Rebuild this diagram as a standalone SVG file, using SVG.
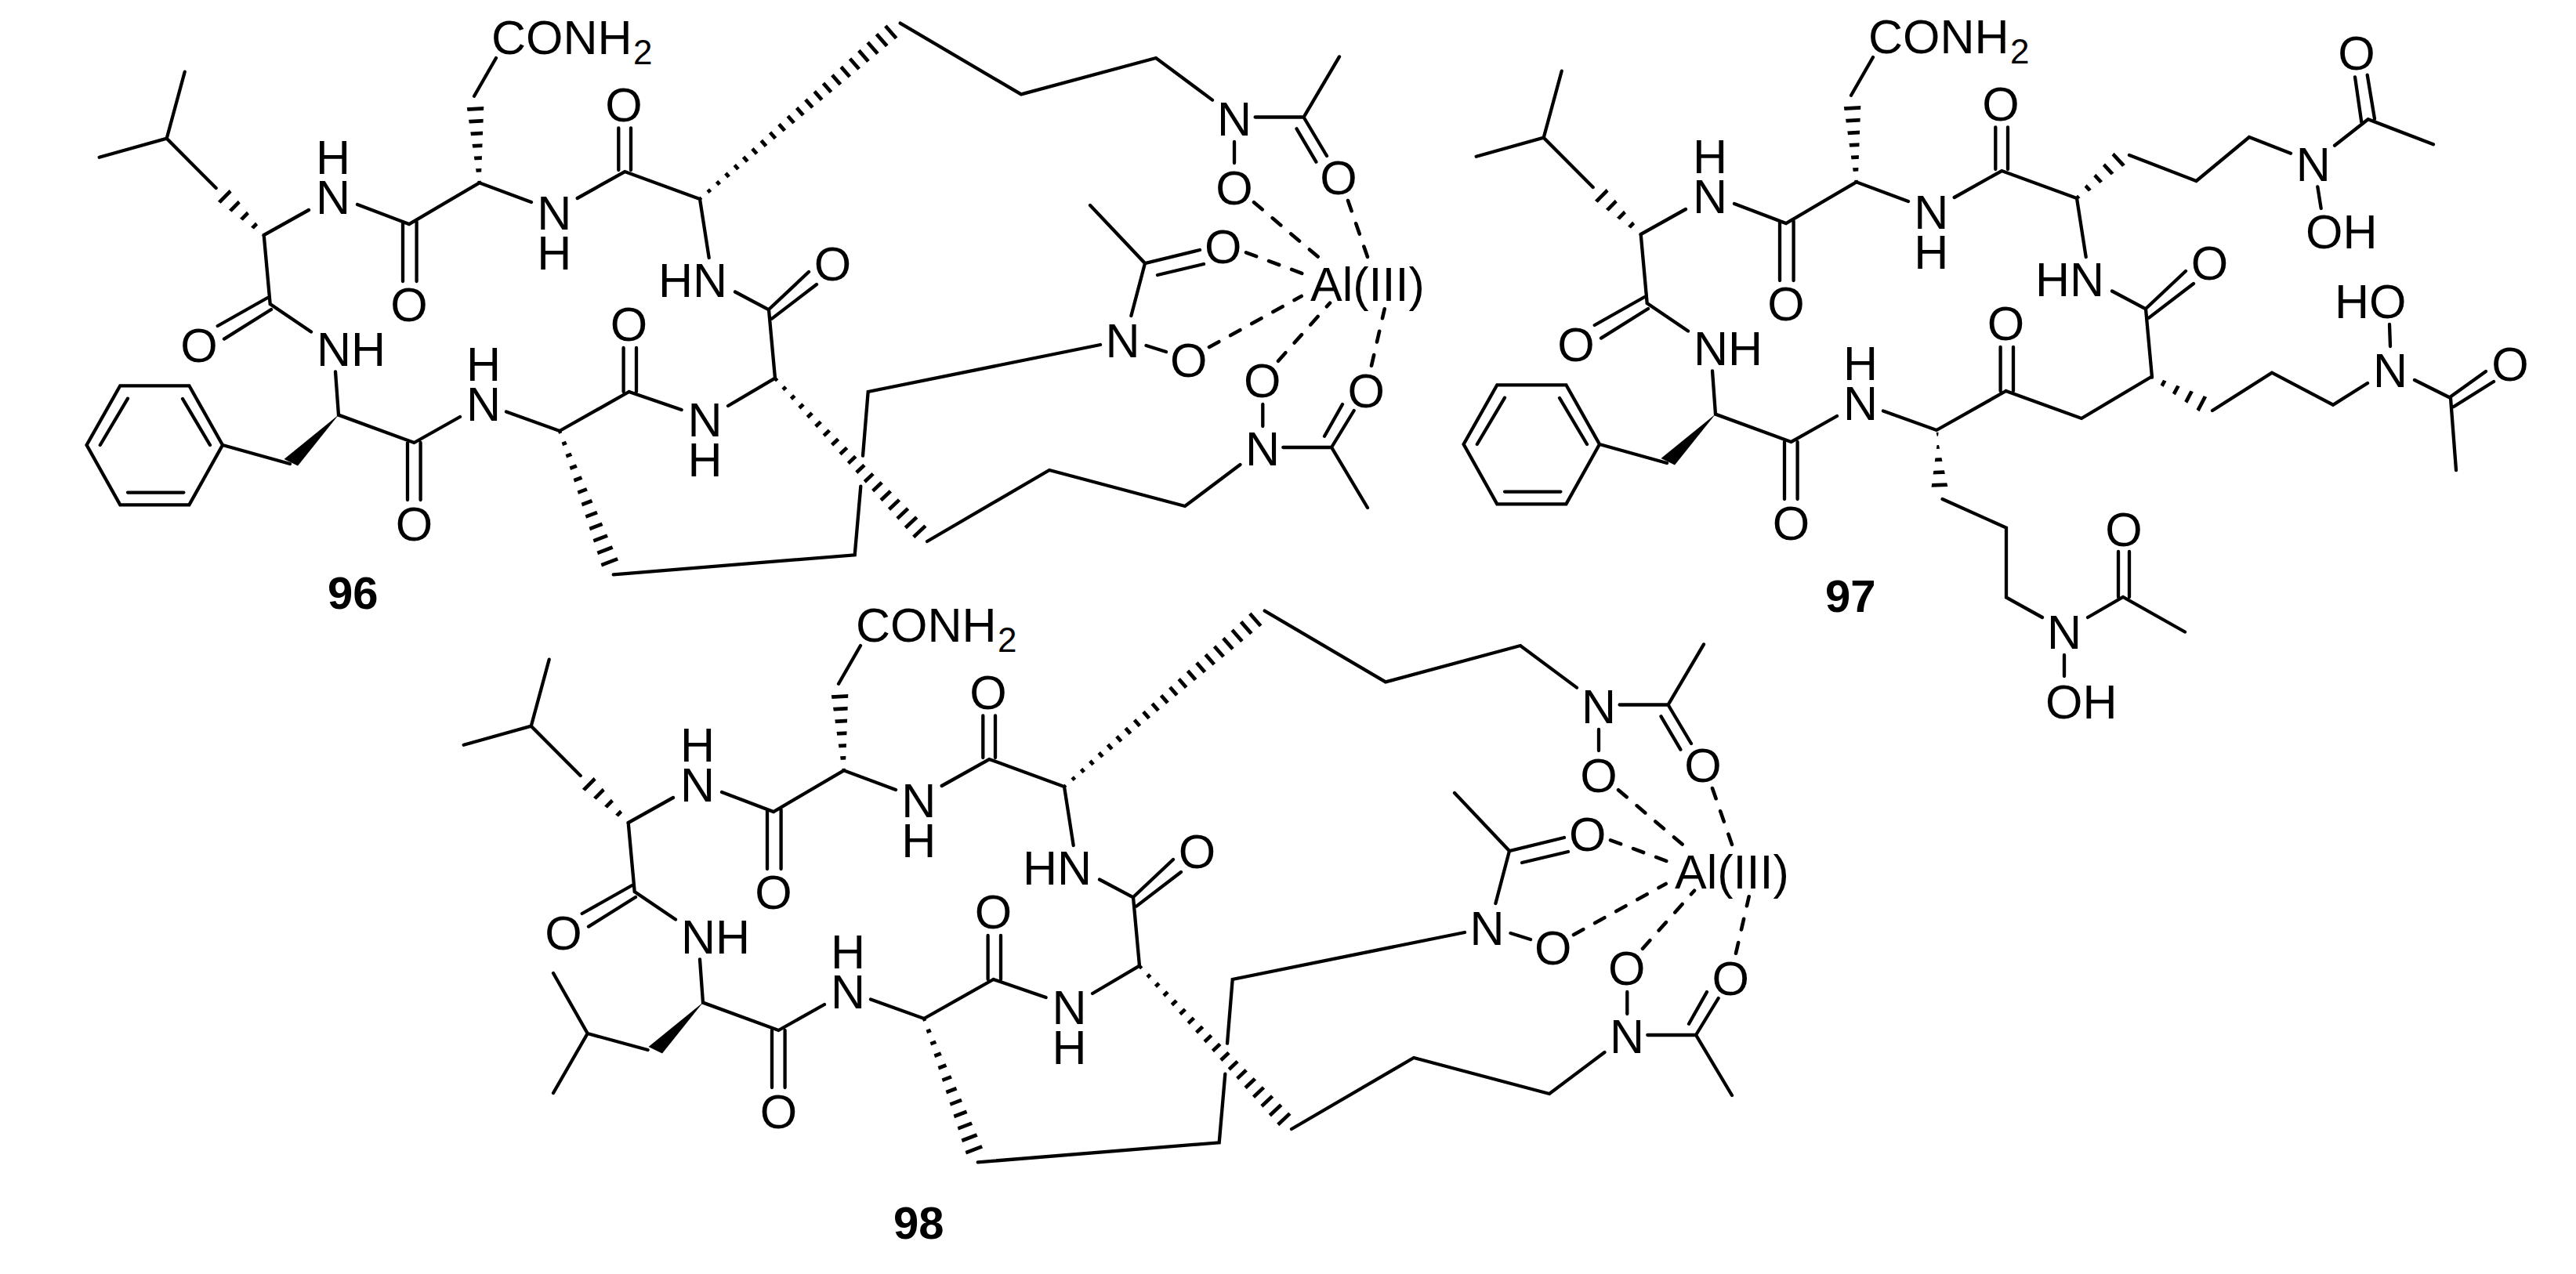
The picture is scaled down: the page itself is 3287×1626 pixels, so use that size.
<svg xmlns="http://www.w3.org/2000/svg" width="3287" height="1626" viewBox="0 0 3287 1626">
<style>
.b{fill:none;stroke:#000;stroke-width:4.3;stroke-linejoin:miter;stroke-linecap:round}
.d{fill:none;stroke:#000;stroke-width:4.6;stroke-linecap:round;stroke-dasharray:14 17}
.h{stroke:#000;stroke-width:26;stroke-dasharray:4.7 11}
.w{stroke-dasharray:4.7 13}
.t{font-family:"Liberation Sans",Arial,sans-serif;font-size:61px;fill:#000}
.m{text-anchor:middle}
.l{font-family:"Liberation Sans",Arial,sans-serif;font-size:58px;font-weight:700;fill:#000}
.s{font-size:44px}
</style>
<defs>
<clipPath id="h1"><polygon points="338.1,298.6 292.3,241.4 277.5,256.4 335.3,301.4"/></clipPath>
<clipPath id="h2"><polygon points="613.7,233.2 617.3,135.4 595.7,136.6 609.7,233.4"/></clipPath>
<clipPath id="h3"><polygon points="894.3,255.5 1145.9,46.9 1132.1,31.1 891.7,252.5"/></clipPath>
<clipPath id="h4"><polygon points="715.9,549.3 789.4,716.1 768.2,724.1 712.1,550.7"/></clipPath>
<clipPath id="h5"><polygon points="990.5,481.6 1183,673.3 1167.8,687.7 987.5,484.4"/></clipPath>
<clipPath id="h6"><polygon points="2651.4,254.5 2712.3,209.7 2698.1,194.3 2648.6,251.5"/></clipPath>
<clipPath id="h7"><polygon points="2745.9,479.2 2816.6,507.1 2807.2,525.7 2744.1,482.8"/></clipPath>
<clipPath id="h8"><polygon points="2470,549 2485.5,622 2464.5,622 2474,549"/></clipPath>
</defs>

<g id="compound-96">
<g class="bonds">
<path class="b" d="M235.7 91.7L212.7 176.7M126.7 200.7L212.7 176.7L275.7 240M394 268L336.7 300L344.7 388L397 423.5M341.5 380L277.7 416M346 395L286 432.6M456 261L522 286L611.7 233.3L678 258M514 283V359M531.6 283V359M605 122.7L633 74M736.7 253L797.3 219L893 254L904.7 329M789.3 163.3V217M805 163.3V217M938 372.5L981 395.4L989 482.7M981 395L1032 347M985 406.6L1042 363M802.6 500L714 550L646 525.5M587 532L528.4 565L432 529.6L428 474.5M520 565V638M536.6 565V638M795.6 444V500M812 444V500"/>
<line class="h w" x1="285.3" y1="249.35" x2="336.7" y2="300" clip-path="url(#h1)"/>
<line class="h" x1="606.6" y1="136.65" x2="611.7" y2="233.3" clip-path="url(#h2)"/>
<line class="h" style="stroke-dasharray:4.7 11.5" x1="778.5" y1="719.5" x2="714" y2="550" clip-path="url(#h4)"/>
<polygon points="432,529.6 362.5,586 380,594.4" fill="#000"/>
<path class="b" d="M153.3 492.3H241.4L284 568L241.4 644.4H153.3L110.6 568ZM127.8 568L163 508.7M233 509L268 568M163 628.6H234.4M284 568L370 592"/>
<path class="b" d="M989 482.7L929 518M869.6 523L802.6 500M1148.7 29.6L1303 120.4L1475 74L1547 127.6M1601.6 149.5H1663.5L1709 72.4M1663.5 149.5L1693 199M1654.5 164.3L1679.4 206.6M1575 181V208M1391 262L1461 336L1531 319M1477 351L1536 337M1461 336L1443.4 403M1462.5 441L1488 449M1404 440L1107.7 500L1101 581.7M1098.3 620.7L1090.7 708.3L782.7 733.3M1183 691L1339 600L1512 646L1582.5 593M1637.3 571H1699L1745 648M1699 571L1727.7 524M1690 556.7L1713 516M1611.3 516V544"/>
<line class="h" style="stroke-dasharray:4.7 10.7" x1="1138.5" y1="39.45" x2="893" y2="254" clip-path="url(#h3)"/>
<line class="h" x1="1174.9" y1="680" x2="989" y2="483" clip-path="url(#h5)"/>
<path class="d" d="M1600 258.3L1685.7 331M1720 256L1745.7 330M1590 322.3L1675 354M1543 443L1660.7 378M1631 460.7L1697 386.7M1750 466.7L1766.7 394.3"/>
</g>
<g class="atoms">
<text class="t" x="627" y="69.3">CONH<tspan class="s" dx="1.4" dy="13">2</tspan></text>
<text class="t m" x="425" y="222">H</text><text class="t m" x="425" y="273">N</text>
<text class="t m" x="522" y="410">O</text>
<text class="t m" x="707.3" y="293.3">N</text><text class="t m" x="707.3" y="344">H</text>
<text class="t m" x="796" y="155">O</text>
<text class="t" x="840" y="379">HN</text>
<text class="t m" x="1062.6" y="358">O</text>
<text class="t m" x="899.6" y="557">N</text><text class="t m" x="899.6" y="608">H</text>
<text class="t m" x="802.6" y="435">O</text>
<text class="t m" x="617" y="486">H</text><text class="t m" x="617" y="537">N</text>
<text class="t m" x="528.4" y="690">O</text>
<text class="t" x="404" y="467">NH</text>
<text class="t m" x="254" y="462">O</text>
<text class="t m" x="1575" y="172.5">N</text>
<text class="t m" x="1708" y="248">O</text>
<text class="t m" x="1575" y="261">O</text>
<text class="t m" x="1560.7" y="335.5">O</text>
<text class="t m" x="1432.6" y="455.6">N</text>
<text class="t m" x="1516.7" y="481">O</text>
<text class="t m" x="1611" y="594">N</text>
<text class="t m" x="1743.3" y="519.5">O</text>
<text class="t m" x="1610.7" y="507">O</text>
<text class="t" x="1672" y="384">Al(III)</text>
<text class="l" x="418" y="777">96</text>
</g>
</g>

<g id="compound-97">
<g class="bonds" transform="translate(1757 -1)">
<path class="b" d="M235.7 91.7L212.7 176.7M126.7 200.7L212.7 176.7L275.7 240M394 268L336.7 300L344.7 388L397 423.5M341.5 380L277.7 416M346 395L286 432.6M456 261L522 286L611.7 233.3L678 258M514 283V359M531.6 283V359M605 122.7L633 74M736.7 253L797.3 219L893 254L904.7 329M789.3 163.3V217M805 163.3V217M938 372.5L981 395.4L989 482.7M981 395L1032 347M985 406.6L1042 363M802.6 500L714 550L646 525.5M587 532L528.4 565L432 529.6L428 474.5M520 565V638M536.6 565V638M795.6 444V500M812 444V500"/>
<line class="h w" x1="285.3" y1="249.35" x2="336.7" y2="300" clip-path="url(#h1)"/>
<line class="h" x1="606.6" y1="136.65" x2="611.7" y2="233.3" clip-path="url(#h2)"/>
<polygon points="432,529.6 362.5,586 380,594.4" fill="#000"/>
<path class="b" d="M153.3 492.3H241.4L284 568L241.4 644.4H153.3L110.6 568ZM127.8 568L163 508.7M233 509L268 568M163 628.6H234.4M284 568L370 592"/>
</g>
<g class="bonds">
<path class="b" d="M2745 481L2656 534L2559.6 499M2717 198L2802.5 231L2870 175L2923 195.7M2979 185.7L3021.7 152.3L3105 184.3M3005 98.3L3013.3 156M3020.7 95.7L3030 151.7M2957.3 238.3L2961.7 266M2823 524L2899 475.7L2977 516.7L3021 489M3049 414L3050 442M3081 485L3127 508L3134 600M3126 507L3172 474M3131 519L3182 487M2478.6 637L2560 673.6V762.4L2606 788M2664 788L2709 762L2788 806.5M2703 704V762M2717 704V762M2634 836V863"/>
<line class="h w" x1="2704.7" y1="202.4" x2="2650" y2="253" clip-path="url(#h6)"/>
<line class="h" style="stroke-dasharray:4.7 13.7" x1="2811.3" y1="516" x2="2745" y2="481" clip-path="url(#h7)"/>
<line class="h" style="stroke-dasharray:4.7 11.5" x1="2475" y1="621.35" x2="2472" y2="549" clip-path="url(#h8)"/>
</g>
<g class="atoms">
<g transform="translate(1757 -1)">
<text class="t" x="627" y="69.3">CONH<tspan class="s" dx="1.4" dy="13">2</tspan></text>
<text class="t m" x="425" y="222">H</text><text class="t m" x="425" y="273">N</text>
<text class="t m" x="522" y="410">O</text>
<text class="t m" x="707.3" y="293.3">N</text><text class="t m" x="707.3" y="344">H</text>
<text class="t m" x="796" y="155">O</text>
<text class="t" x="840" y="379">HN</text>
<text class="t m" x="1062.6" y="358">O</text>
<text class="t m" x="802.6" y="435">O</text>
<text class="t m" x="617" y="486">H</text><text class="t m" x="617" y="537">N</text>
<text class="t m" x="528.4" y="690">O</text>
<text class="t" x="404" y="467">NH</text>
<text class="t m" x="254" y="462">O</text>
</g>
<text class="t m" x="3007" y="89">O</text>
<text class="t m" x="2951.7" y="231">N</text>
<text class="t" x="2942" y="317">OH</text>
<text class="t" x="2979" y="406">HO</text>
<text class="t m" x="3050" y="494">N</text>
<text class="t m" x="3203" y="486">O</text>
<text class="t m" x="2634" y="828">N</text>
<text class="t m" x="2710" y="697">O</text>
<text class="t" x="2610" y="917">OH</text>
<text class="l" x="2329" y="781">97</text>
</g>
</g>

<g id="compound-98" transform="translate(465 750)">
<g class="bonds">
<path class="b" d="M235.7 91.7L212.7 176.7M126.7 200.7L212.7 176.7L275.7 240M394 268L336.7 300L344.7 388L397 423.5M341.5 380L277.7 416M346 395L286 432.6M456 261L522 286L611.7 233.3L678 258M514 283V359M531.6 283V359M605 122.7L633 74M736.7 253L797.3 219L893 254L904.7 329M789.3 163.3V217M805 163.3V217M938 372.5L981 395.4L989 482.7M981 395L1032 347M985 406.6L1042 363M802.6 500L714 550L646 525.5M587 532L528.4 565L432 529.6L428 474.5M520 565V638M536.6 565V638M795.6 444V500M812 444V500"/>
<line class="h w" x1="285.3" y1="249.35" x2="336.7" y2="300" clip-path="url(#h1)"/>
<line class="h" x1="606.6" y1="136.65" x2="611.7" y2="233.3" clip-path="url(#h2)"/>
<line class="h" style="stroke-dasharray:4.7 11.5" x1="778.5" y1="719.5" x2="714" y2="550" clip-path="url(#h4)"/>
<polygon points="432,529.6 362.5,586 380,594.4" fill="#000"/>
<path class="b" d="M241 492L284.7 569L241 645M284.7 569L361.6 590"/>
<path class="b" d="M989 482.7L929 518M869.6 523L802.6 500M1148.7 29.6L1303 120.4L1475 74L1547 127.6M1601.6 149.5H1663.5L1709 72.4M1663.5 149.5L1693 199M1654.5 164.3L1679.4 206.6M1575 181V208M1391 262L1461 336L1531 319M1477 351L1536 337M1461 336L1443.4 403M1462.5 441L1488 449M1404 440L1107.7 500L1101 581.7M1098.3 620.7L1090.7 708.3L782.7 733.3M1183 691L1339 600L1512 646L1582.5 593M1637.3 571H1699L1745 648M1699 571L1727.7 524M1690 556.7L1713 516M1611.3 516V544"/>
<line class="h" style="stroke-dasharray:4.7 10.7" x1="1138.5" y1="39.45" x2="893" y2="254" clip-path="url(#h3)"/>
<line class="h" x1="1174.9" y1="680" x2="989" y2="483" clip-path="url(#h5)"/>
<path class="d" d="M1600 258.3L1685.7 331M1720 256L1745.7 330M1590 322.3L1675 354M1543 443L1660.7 378M1631 460.7L1697 386.7M1750 466.7L1766.7 394.3"/>
</g>
<g class="atoms">
<text class="t" x="627" y="69.3">CONH<tspan class="s" dx="1.4" dy="13">2</tspan></text>
<text class="t m" x="425" y="222">H</text><text class="t m" x="425" y="273">N</text>
<text class="t m" x="522" y="410">O</text>
<text class="t m" x="707.3" y="293.3">N</text><text class="t m" x="707.3" y="344">H</text>
<text class="t m" x="796" y="155">O</text>
<text class="t" x="840" y="379">HN</text>
<text class="t m" x="1062.6" y="358">O</text>
<text class="t m" x="899.6" y="557">N</text><text class="t m" x="899.6" y="608">H</text>
<text class="t m" x="802.6" y="435">O</text>
<text class="t m" x="617" y="486">H</text><text class="t m" x="617" y="537">N</text>
<text class="t m" x="528.4" y="690">O</text>
<text class="t" x="404" y="467">NH</text>
<text class="t m" x="254" y="462">O</text>
<text class="t m" x="1575" y="172.5">N</text>
<text class="t m" x="1708" y="248">O</text>
<text class="t m" x="1575" y="261">O</text>
<text class="t m" x="1560.7" y="335.5">O</text>
<text class="t m" x="1432.6" y="455.6">N</text>
<text class="t m" x="1516.7" y="481">O</text>
<text class="t m" x="1611" y="594">N</text>
<text class="t m" x="1743.3" y="519.5">O</text>
<text class="t m" x="1610.7" y="507">O</text>
<text class="t" x="1672" y="384">Al(III)</text>
<text class="l" x="675" y="831">98</text>
</g>
</g>
</svg>
